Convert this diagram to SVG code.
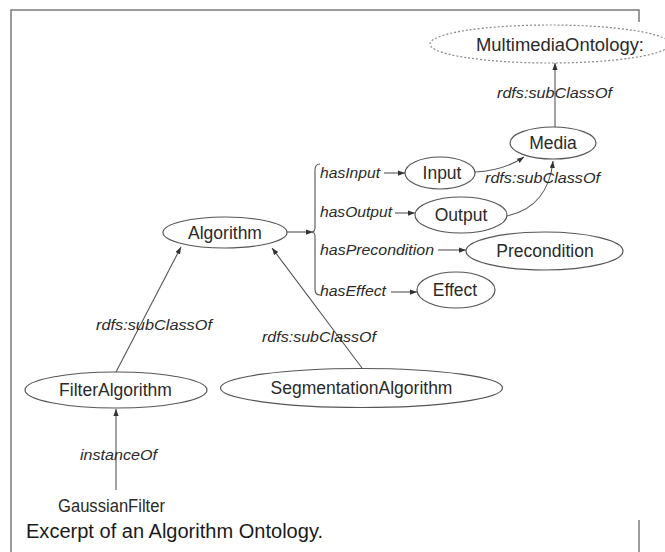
<svg xmlns="http://www.w3.org/2000/svg" width="665" height="552" viewBox="0 0 665 552">
  <defs>
    <marker id="arrow" viewBox="0 0 8 6" refX="8" refY="3" markerWidth="7" markerHeight="5.5" markerUnits="userSpaceOnUse" orient="auto">
      <path d="M0,0 L8,3 L0,6 Z" fill="#333"/>
    </marker>
  </defs>
  <style>
    .frame { stroke: #7a7a7a; stroke-width: 1.5; fill: none; }
    .node { fill: #ffffff; stroke: #555555; stroke-width: 1.2; }
    .ext { fill: #ffffff; stroke: #888888; stroke-width: 1.2; stroke-dasharray: 2 2; }
    .lbl { font-family: "Liberation Sans", Arial, sans-serif; font-size: 17.5px; fill: #2a2a2a; text-anchor: middle; }
    .rel { font-family: "Liberation Sans", Arial, sans-serif; font-size: 15.5px; font-style: italic; fill: #2a2a2a; }
    .edge { fill: none; stroke: #555555; stroke-width: 1.1; }
    .cap { font-family: "Liberation Sans", Arial, sans-serif; font-size: 19.5px; fill: #1a1a1a; }
  </style>

  <rect width="665" height="552" fill="#ffffff"/>

  <!-- page frame -->
  <g id="frame">
    <path class="frame" d="M11,552 L11,10 L639,10 L639,22"/>
    <path class="frame" d="M639,520 L639,552"/>
  </g>

  <!-- connectors -->
  <g id="connectors">
    <path class="edge" d="M555,127 L555,63" marker-end="url(#arrow)"/>
    <path class="edge" d="M475,172 C497,171 512,165 524,157" marker-end="url(#arrow)"/>
    <path class="edge" d="M507,216 C535,210 550,190 553,161" marker-end="url(#arrow)"/>
    <path class="edge" d="M287,232 L313,232" marker-end="url(#arrow)"/>
    <!-- brace grouping the properties -->
    <path class="edge" d="M320,164 Q315,164 315,170 L315,227 Q315,232 312,232 Q315,232 315,237 L315,289 Q315,295 320,295"/>
    <path class="edge" d="M384,173 L405,173" marker-end="url(#arrow)"/>
    <path class="edge" d="M395,213 L415,213" marker-end="url(#arrow)"/>
    <path class="edge" d="M438,250 L466,250" marker-end="url(#arrow)"/>
    <path class="edge" d="M391,292 L417,292" marker-end="url(#arrow)"/>
    <path class="edge" d="M116,372 L181,247" marker-end="url(#arrow)"/>
    <path class="edge" d="M362,368 L272,248" marker-end="url(#arrow)"/>
    <path class="edge" d="M116,490 L116,409" marker-end="url(#arrow)"/>

    <text class="rel" x="497" y="98" textLength="115" lengthAdjust="spacingAndGlyphs">rdfs:subClassOf</text>
    <text class="rel" x="485" y="183" textLength="115" lengthAdjust="spacingAndGlyphs">rdfs:subClassOf</text>
    <text class="rel" x="96" y="330" textLength="116" lengthAdjust="spacingAndGlyphs">rdfs:subClassOf</text>
    <text class="rel" x="262" y="342" textLength="114" lengthAdjust="spacingAndGlyphs">rdfs:subClassOf</text>
    <text class="rel" x="80" y="460" textLength="77" lengthAdjust="spacingAndGlyphs">instanceOf</text>
    <text class="rel" x="320" y="178" textLength="60" lengthAdjust="spacingAndGlyphs">hasInput</text>
    <text class="rel" x="320" y="217" textLength="72" lengthAdjust="spacingAndGlyphs">hasOutput</text>
    <text class="rel" x="320" y="255" textLength="114" lengthAdjust="spacingAndGlyphs">hasPrecondition</text>
    <text class="rel" x="320" y="296" textLength="66" lengthAdjust="spacingAndGlyphs">hasEffect</text>
  </g>

  <!-- nodes -->
  <g id="multimedia-ontology">
    <ellipse class="ext" cx="550" cy="44" rx="120" ry="19"/>
    <text class="lbl" x="560" y="51" font-size="18" textLength="168" lengthAdjust="spacingAndGlyphs">MultimediaOntology:</text>
  </g>
  <g id="media">
    <ellipse class="node" cx="553" cy="143" rx="43" ry="16"/>
    <text class="lbl" x="553" y="149">Media</text>
  </g>
  <g id="input">
    <ellipse class="node" cx="440" cy="173" rx="35" ry="16"/>
    <text class="lbl" x="442" y="179">Input</text>
  </g>
  <g id="output">
    <ellipse class="node" cx="461" cy="215" rx="46" ry="18"/>
    <text class="lbl" x="461" y="221">Output</text>
  </g>
  <g id="precondition">
    <ellipse class="node" cx="544.5" cy="251" rx="78.5" ry="19"/>
    <text class="lbl" x="545" y="257">Precondition</text>
  </g>
  <g id="effect">
    <ellipse class="node" cx="456" cy="290" rx="39" ry="18"/>
    <text class="lbl" x="455" y="296">Effect</text>
  </g>
  <g id="algorithm">
    <ellipse class="node" cx="225" cy="232.5" rx="62" ry="15.5"/>
    <text class="lbl" x="225" y="238.5">Algorithm</text>
  </g>
  <g id="filter-algorithm">
    <ellipse class="node" cx="116" cy="390" rx="91" ry="18"/>
    <text class="lbl" x="115.5" y="396">FilterAlgorithm</text>
  </g>
  <g id="segmentation-algorithm">
    <ellipse class="node" cx="361.5" cy="388" rx="141" ry="19.5"/>
    <text class="lbl" x="361.5" y="394">SegmentationAlgorithm</text>
  </g>
  <g id="gaussian-filter">
    <text class="lbl" x="111.5" y="512" font-size="17" textLength="107" lengthAdjust="spacingAndGlyphs">GaussianFilter</text>
  </g>

  <!-- caption -->
  <text class="cap" x="26" y="538" textLength="297" lengthAdjust="spacingAndGlyphs">Excerpt of an Algorithm Ontology.</text>
</svg>
